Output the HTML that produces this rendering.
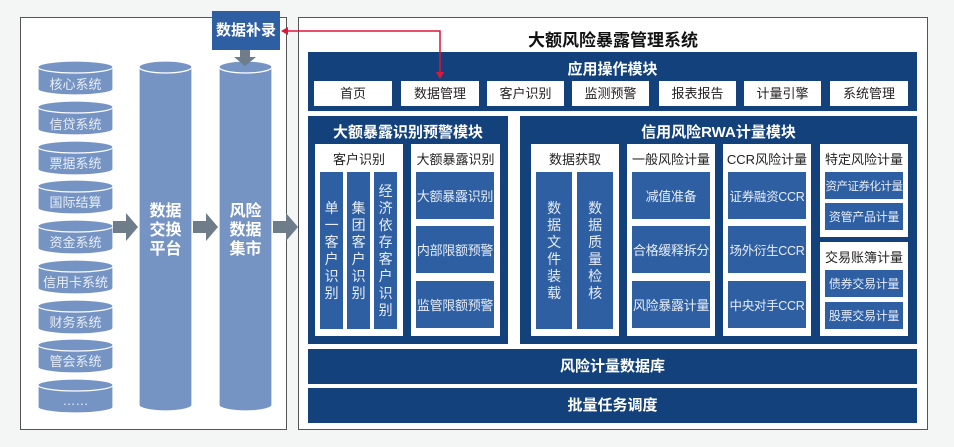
<!DOCTYPE html>
<html><head><meta charset="utf-8"><style>
body{margin:0;width:954px;height:447px;background:#f4f6f5;position:relative;overflow:hidden;font-family:"Liberation Sans","Noto Sans CJK SC",sans-serif}
.a{position:absolute;box-sizing:border-box}
.nv{background:#13417c;color:#fff;font-weight:bold;text-align:center}
.wb{background:#fff;color:#222;text-align:center;white-space:nowrap}
.bb{background:#2f5fa3;color:#e6edf7;text-align:center;display:flex;align-items:center;justify-content:center;font-size:13px;white-space:nowrap;letter-spacing:-0.3px}
.vt{font-size:14px;line-height:17px}
</style></head><body>
<div class="a" style="left:20px;top:17px;width:267px;height:413px;border:1.5px solid #555;background:#fff"></div>
<div class="a" style="left:298px;top:17px;width:630px;height:413px;border:1.5px solid #555;background:#fff"></div>
<svg class="a" style="left:0;top:0" width="954" height="447">
<g fill="#7594c4" stroke="#fff" stroke-width="1.2">
<g id="c"><path d="M38,67 v22 a37.5,6 0 0 0 75,0 v-22" /><ellipse cx="75.5" cy="67" rx="37.5" ry="6"/></g>
<use href="#c" y="40"/><use href="#c" y="80"/><use href="#c" y="119"/><use href="#c" y="159"/><use href="#c" y="199"/><use href="#c" y="239"/><use href="#c" y="278"/><use href="#c" y="318"/>
<path d="M139,67 v338 a26.5,6 0 0 0 53,0 v-338"/><ellipse cx="165.5" cy="67" rx="26.5" ry="6"/>
<path d="M219,67 v338 a26.5,6 0 0 0 53,0 v-338"/><ellipse cx="245.5" cy="67" rx="26.5" ry="6"/>
</g>
<g fill="#6f7d8a">
<path d="M113,221h13v-8l12,14l-12,14v-8h-13z"/>
<path d="M193,221h13v-8l12,14l-12,14v-8h-13z"/>
<path d="M273,221h13v-8l12,14l-12,14v-8h-13z"/>
<path d="M240,50h10v7h6l-11,9l-11,-9h6z"/>
</g>
<g fill="#e8eef7" font-size="13" text-anchor="middle" font-family="Liberation Sans,Noto Sans CJK SC,sans-serif">
<text x="75.5" y="89">核心系统</text><text x="75.5" y="129">信贷系统</text><text x="75.5" y="168">票据系统</text><text x="75.5" y="207">国际结算</text><text x="75.5" y="247">资金系统</text><text x="75.5" y="287">信用卡系统</text><text x="75.5" y="327">财务系统</text><text x="75.5" y="366">管会系统</text><text x="75.5" y="405">……</text>
</g>
<g fill="#fff" font-size="16" font-weight="bold" text-anchor="middle" font-family="Liberation Sans,Noto Sans CJK SC,sans-serif">
<text x="165.5" y="216">数据</text><text x="165.5" y="235">交换</text><text x="165.5" y="254">平台</text>
<text x="245.5" y="216">风险</text><text x="245.5" y="235">数据</text><text x="245.5" y="254">集市</text>
</g>
</svg>
<div class="a" style="left:212px;top:11px;width:68px;height:39px;background:#2f5fa3;color:#fff;font-weight:bold;font-size:15px;line-height:39px;text-align:center">数据补录</div>
<div class="a" style="left:298px;top:26px;width:630px;text-align:center;font-weight:bold;font-size:17px;color:#111">大额风险暴露管理系统</div>
<div class="a nv" style="left:308px;top:52px;width:609px;height:59px;font-size:15px;padding-top:6px">应用操作模块</div>
<div class="a wb" style="left:314px;top:81px;width:78px;height:25px;line-height:25px;font-size:13px">首页</div>
<div class="a wb" style="left:401px;top:81px;width:78px;height:25px;line-height:25px;font-size:13px">数据管理</div>
<div class="a wb" style="left:487px;top:81px;width:77px;height:25px;line-height:25px;font-size:13px">客户识别</div>
<div class="a wb" style="left:572px;top:81px;width:77px;height:25px;line-height:25px;font-size:13px">监测预警</div>
<div class="a wb" style="left:659px;top:81px;width:77px;height:25px;line-height:25px;font-size:13px">报表报告</div>
<div class="a wb" style="left:744px;top:81px;width:77px;height:25px;line-height:25px;font-size:13px">计量引擎</div>
<div class="a wb" style="left:830px;top:81px;width:78px;height:25px;line-height:25px;font-size:13px">系统管理</div>

<div class="a nv" style="left:308px;top:116px;width:200px;height:228px;font-size:15px;padding-top:5px">大额暴露识别预警模块</div>
<div class="a wb" style="left:315px;top:144px;width:88px;height:192px;font-size:13px;padding-top:5px">客户识别</div>
<div class="a bb vt" style="left:320px;top:172px;width:23px;height:157px">单<br>一<br>客<br>户<br>识<br>别</div>
<div class="a bb vt" style="left:347px;top:172px;width:23px;height:157px">集<br>团<br>客<br>户<br>识<br>别</div>
<div class="a bb vt" style="left:374px;top:172px;width:23px;height:157px">经<br>济<br>依<br>存<br>客<br>户<br>识<br>别</div>
<div class="a wb" style="left:411px;top:144px;width:89px;height:192px;font-size:13px;padding-top:5px">大额暴露识别</div>
<div class="a bb" style="left:416px;top:172px;width:78px;height:47px">大额暴露识别</div>
<div class="a bb" style="left:416px;top:226px;width:78px;height:47px">内部限额预警</div>
<div class="a bb" style="left:416px;top:281px;width:78px;height:47px">监管限额预警</div>

<div class="a nv" style="left:520px;top:116px;width:397px;height:228px;font-size:15px;padding-top:5px">信用风险RWA计量模块</div>
<div class="a wb" style="left:531px;top:144px;width:88px;height:192px;font-size:13px;padding-top:5px">数据获取</div>
<div class="a bb vt" style="left:536px;top:172px;width:36px;height:157px">数<br>据<br>文<br>件<br>装<br>载</div>
<div class="a bb vt" style="left:577px;top:172px;width:36px;height:157px">数<br>据<br>质<br>量<br>检<br>核</div>
<div class="a wb" style="left:627px;top:144px;width:88px;height:192px;font-size:13px;padding-top:5px">一般风险计量</div>
<div class="a bb" style="left:632px;top:172px;width:78px;height:47px">减值准备</div>
<div class="a bb" style="left:632px;top:226px;width:78px;height:47px">合格缓释拆分</div>
<div class="a bb" style="left:632px;top:281px;width:78px;height:47px">风险暴露计量</div>
<div class="a wb" style="left:723px;top:144px;width:88px;height:192px;font-size:13px;padding-top:5px">CCR风险计量</div>
<div class="a bb" style="left:728px;top:172px;width:78px;height:47px;font-size:12.5px">证券融资CCR</div>
<div class="a bb" style="left:728px;top:226px;width:78px;height:47px;font-size:12.5px">场外衍生CCR</div>
<div class="a bb" style="left:728px;top:281px;width:78px;height:47px;font-size:12.5px">中央对手CCR</div>
<div class="a wb" style="left:820px;top:144px;width:88px;height:93px;font-size:13px;padding-top:5px">特定风险计量</div>
<div class="a bb" style="left:825px;top:172px;width:78px;height:27px;font-size:11.5px;letter-spacing:-0.5px">资产证券化计量</div>
<div class="a bb" style="left:825px;top:203px;width:78px;height:27px;font-size:12px">资管产品计量</div>
<div class="a wb" style="left:820px;top:242px;width:88px;height:94px;font-size:13px;padding-top:5px">交易账簿计量</div>
<div class="a bb" style="left:825px;top:270px;width:78px;height:27px;font-size:12px">债券交易计量</div>
<div class="a bb" style="left:825px;top:302px;width:78px;height:27px;font-size:12px">股票交易计量</div>

<div class="a nv" style="left:308px;top:349px;width:609px;height:35px;line-height:35px;font-size:15px">风险计量数据库</div>
<div class="a nv" style="left:308px;top:388px;width:609px;height:35px;line-height:35px;font-size:15px">批量任务调度</div>
<svg class="a" style="left:0;top:0" width="954" height="447">
<path d="M288,31H440V74" fill="none" stroke="#e0153a" stroke-width="1.5"/>
<path d="M436,72l4,7l4,-7z" fill="#e0153a"/>
<path d="M281,31l7,-4v8z" fill="#e0153a"/>
</svg>
</body></html>
